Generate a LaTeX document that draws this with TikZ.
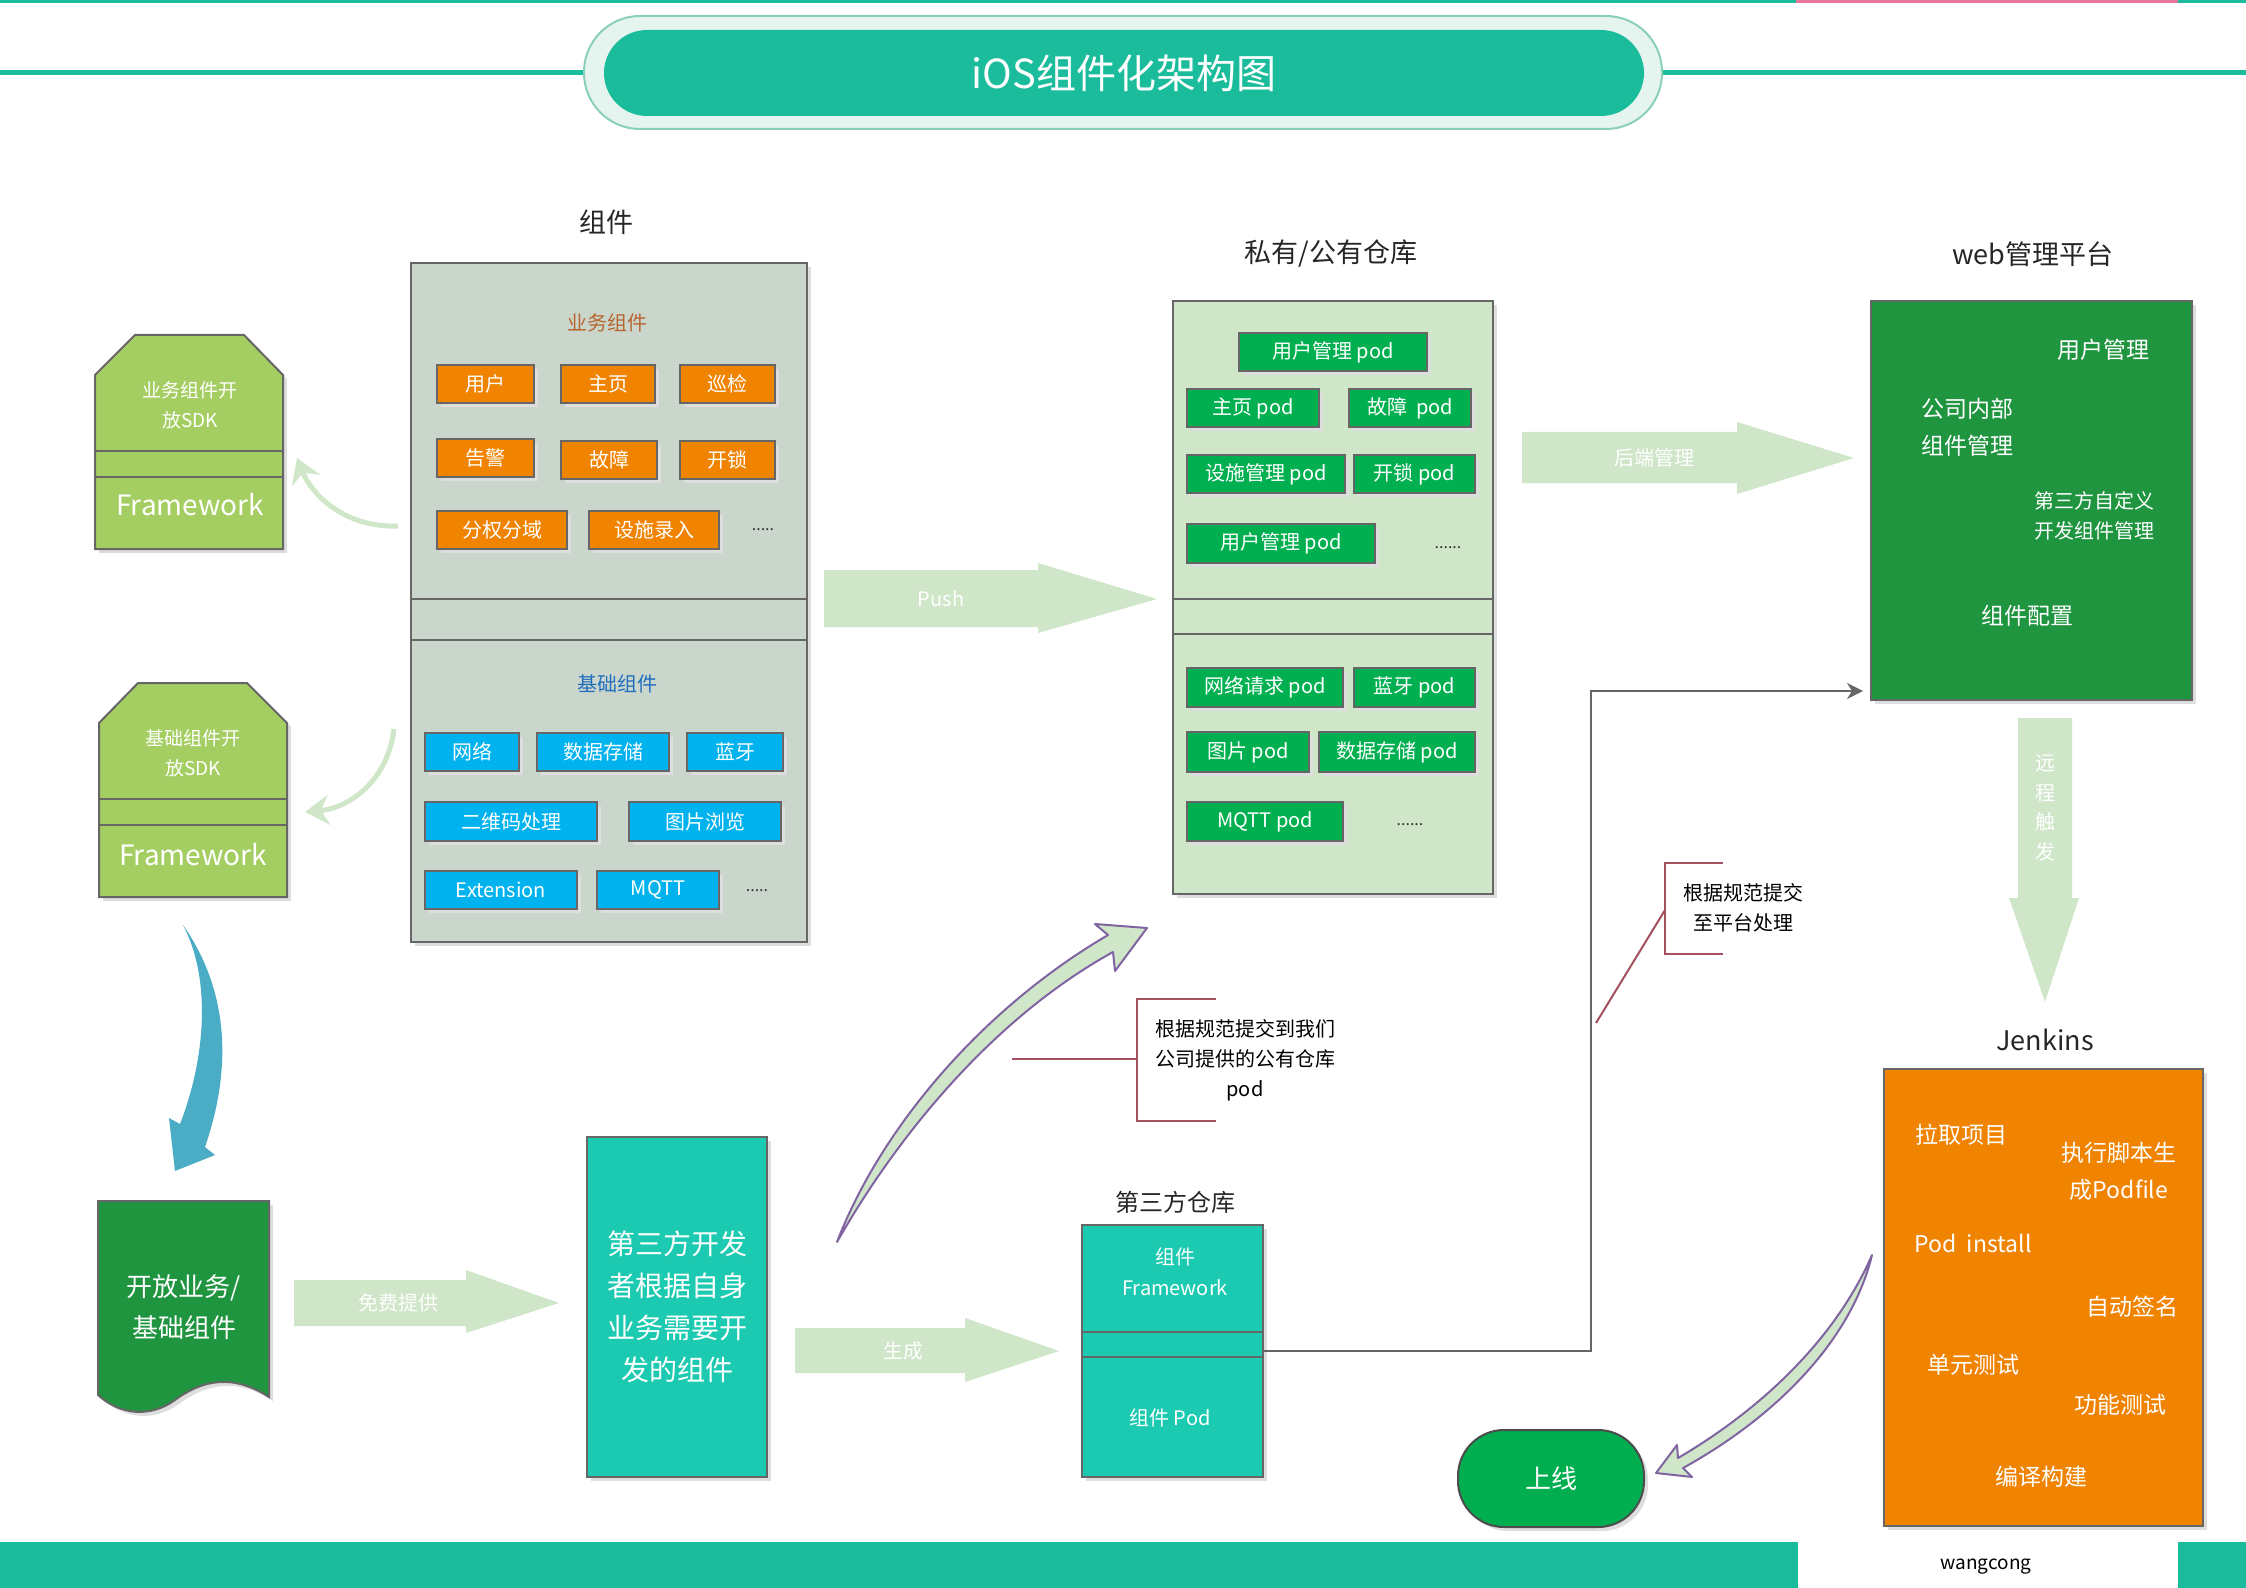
\documentclass[tikz,border=0pt]{standalone}
\usepackage{fontspec}
\setmainfont{Noto Sans CJK SC}
\usetikzlibrary{arrows.meta,shadows}
\definecolor{cTeal}{HTML}{1ABC9C}
\definecolor{cPink}{HTML}{E7769A}
\definecolor{cTitleOut}{HTML}{E6F4EF}
\definecolor{cTitleOutB}{HTML}{8ACFB9}
\definecolor{cGray}{HTML}{666666}
\definecolor{cCompBg}{HTML}{CAD6CC}
\definecolor{cOrange}{HTML}{F08300}
\definecolor{cBlue}{HTML}{00B2EE}
\definecolor{cSDK}{HTML}{A5CE62}
\definecolor{cRepoBg}{HTML}{CFE6C9}
\definecolor{cPod}{HTML}{00B050}
\definecolor{cDark}{HTML}{1F9540}
\definecolor{cTealB}{HTML}{1BCAB0}
\definecolor{cPale}{HTML}{CFE6C9}
\definecolor{cPurple}{HTML}{8064A2}
\definecolor{cArrowBlue}{HTML}{4BACC6}
\definecolor{cNote}{HTML}{A5505F}
\definecolor{cBizLabel}{HTML}{B8652E}
\definecolor{cBaseLabel}{HTML}{1F6EBE}
\definecolor{cOnline}{HTML}{00AE50}
\newcommand\fz[2]{\fontsize{#1}{#2}\selectfont}
\newcommand\bnode[7]{\node[#1, minimum width={(#5-#3)*0.5pt}, minimum height={(#6-#4)*0.5pt}] (#2) at ({(#3+#5)/2},{(#4+#6)/2}) {#7};}
\begin{document}
\begin{tikzpicture}[x=0.5pt,y=-0.5pt,
  every node/.style={inner sep=0pt, outer sep=0pt},
  bx/.style={draw=cGray, line width=1pt},
  sh/.style={drop shadow={shadow xshift=2pt, shadow yshift=-2pt, fill=black!13, opacity=1}},
  obox/.style={bx, sh, fill=cOrange, text=white, font=\fz{10}{12}},
  bbox/.style={bx, sh, fill=cBlue, text=white, font=\fz{10}{12}},
  podbox/.style={bx, sh, fill=cPod, text=white, font=\fz{10}{12}},
  lbl/.style={text=black!85, font=\fz{13.5}{16}},
  wt/.style={text=white, align=center},
  alabel/.style={text=white, font=\fz{10}{12}},
  dots/.style={text=black!80, font=\fz{8}{10}},
  note/.style={draw=cNote, line width=1pt},
  ntext/.style={align=center, font=\fz{10}{15}, text=black},
  conn/.style={draw=cGray, line width=1pt, -{Stealth[length=8pt,width=8pt,inset=2.5pt]}, shorten >=4pt},
  pale/.style={draw=cPale, line width=2.5pt, -{Stealth[length=12pt,width=15pt,inset=4pt]}},
  blk/.style={fill=cPale},
  purp/.style={fill=cPale, draw=cPurple, line width=1pt, line join=round}
]
\useasboundingbox (0,0) rectangle (2246,1588);
% top line
\fill[cTeal] (0,0) rectangle (1796,3);
\fill[cPink] (1796,0) rectangle (2178,3);
\fill[cTeal] (2178,0) rectangle (2246,3);
% bottom band
\fill[cTeal] (0,1542) rectangle (1798,1588);
\fill[cTeal] (2178,1542) rectangle (2246,1588);
\node[text=black, font=\fz{9.5}{11}] (author) at (1986,1567) {wangcong};
% title
\draw[cTeal, line width=2.5pt] (0,73) -- (584,73);
\draw[cTeal, line width=2.5pt] (1662,73) -- (2246,73);
\bnode{draw=cTitleOutB, fill=cTitleOut, line width=1pt, rounded corners=28pt}{titleout}{584}{16}{1662}{129}{}
\bnode{fill=cTeal, rounded corners=21.5pt}{titlein}{604}{30}{1644}{116}{}
\node[text=white, font=\fz{20}{24}] (title) at (1124,73) {iOS组件化架构图};

% ===== components box
\node[lbl] (complbl) at (606,222) {组件};
\bnode{bx, sh, fill=cCompBg}{comp}{411}{263}{807}{942}{}
\draw[cGray, line width=1pt] (411,599) -- (807,599) (411,640) -- (807,640);
\node[text=cBizLabel, font=\fz{10}{12}] (bizlbl) at (607,323) {业务组件};
\bnode{obox}{o1}{437}{365}{534}{403}{用户}
\bnode{obox}{o2}{561}{365}{655}{403}{主页}
\bnode{obox}{o3}{680}{365}{775}{403}{巡检}
\bnode{obox}{o4}{437}{439}{534}{477}{告警}
\bnode{obox}{o5}{561}{441}{657}{479}{故障}
\bnode{obox}{o6}{680}{441}{775}{479}{开锁}
\bnode{obox}{o7}{437}{511}{567}{549}{分权分域}
\bnode{obox}{o8}{589}{511}{719}{549}{设施录入}
\node[dots] (odots) at (763,530) {.....};
\node[text=cBaseLabel, font=\fz{10}{12}] (baselbl) at (617,684) {基础组件};
\bnode{bbox}{b1}{425}{733}{519}{771}{网络}
\bnode{bbox}{b2}{537}{733}{669}{771}{数据存储}
\bnode{bbox}{b3}{687}{733}{783}{771}{蓝牙}
\bnode{bbox}{b4}{425}{802}{597}{841}{二维码处理}
\bnode{bbox}{b5}{629}{802}{781}{841}{图片浏览}
\bnode{bbox}{b6}{425}{871}{577}{909}{Extension}
\bnode{bbox}{b7}{597}{871}{719}{909}{MQTT}
\node[dots] (bdots) at (757,891) {.....};

% ===== SDK shapes
\filldraw[fill=cSDK, draw=cGray, line width=1pt, sh] (95,375) -- (135,335) -- (244,335) -- (283,375) -- (283,549) -- (95,549) -- cycle;
\draw[cGray, line width=1pt] (95,451) -- (283,451) (95,477) -- (283,477);
\node[wt, font=\fz{9.5}{15}] (sdk1t) at (190,405) {业务组件开\\放SDK};
\node[wt, font=\fz{14}{16}] (sdk1f) at (190,505) {Framework};
\filldraw[fill=cSDK, draw=cGray, line width=1pt, sh] (99,723) -- (138,683) -- (247,683) -- (287,723) -- (287,897) -- (99,897) -- cycle;
\draw[cGray, line width=1pt] (99,799) -- (287,799) (99,825) -- (287,825);
\node[wt, font=\fz{9.5}{15}] (sdk2t) at (193,753) {基础组件开\\放SDK};
\node[wt, font=\fz{14}{16}] (sdk2f) at (193,855) {Framework};
\coordinate (a1s) at (398,526);
\coordinate (a1e) at (297,458);
\coordinate (a2s) at (394,729);
\coordinate (a2e) at (305,812);
\draw[pale] (a1s) .. controls (345,528) and (312,495) .. (a1e);
\draw[pale] (a2s) .. controls (388,780) and (350,808) .. (a2e);

% blue curved arrow
\fill[cArrowBlue] (183,925) .. controls (225,985) and (235,1060) .. (205,1147) -- (215,1155) -- (175,1171) -- (169,1118) -- (180,1124) .. controls (205,1060) and (212,980) .. (183,925) -- cycle;

% document shape
\filldraw[fill=cDark, draw=cGray, line width=1pt, sh] (98,1201) -- (269,1201) -- (269,1397) .. controls (235,1375) and (205,1378) .. (175,1400) .. controls (150,1418) and (120,1415) .. (98,1395) -- cycle;
\node[wt, font=\fz{13}{20.5}] (doc) at (184,1307) {开放业务/\\基础组件};

% free provide arrow
\fill[cPale] (294,1280) -- (466,1280) -- (466,1270) -- (559,1303) -- (466,1333) -- (466,1326) -- (294,1326) -- cycle;
\node[alabel] (freel) at (398,1303) {免费提供};

% third party dev box
\bnode{bx, sh, fill=cTealB, wt, font=\fz{14}{21}}{dev}{587}{1137}{767}{1477}{第三方开发\\者根据自身\\业务需要开\\发的组件}

% generate arrow
\fill[cPale] (795,1328) -- (965,1328) -- (965,1318) -- (1059,1351) -- (965,1382) -- (965,1373) -- (795,1373) -- cycle;
\node[alabel] (genl) at (903,1351) {生成};

% third party repo
\node[lbl, font=\fz{12}{14}] (tplbl) at (1175,1202) {第三方仓库};
\bnode{bx, sh, fill=cTealB}{tprepo}{1082}{1225}{1263}{1477}{}
\draw[cGray, line width=1pt] (1082,1332) -- (1263,1332) (1082,1357) -- (1263,1357);
\node[wt, font=\fz{10}{15.5}] (tp1) at (1175,1272) {组件\\Framework};
\node[wt, font=\fz{10}{12}] (tp2) at (1170,1418) {组件 Pod};

% push arrow
\fill[cPale] (824,570) -- (1038,570) -- (1038,563) -- (1157,599) -- (1038,633) -- (1038,627) -- (824,627) -- cycle;
\node[alabel] (pushl) at (941,599) {Push};

% ===== private/public repo
\node[lbl] (repolbl) at (1331,254) {私有/公有仓库};
\bnode{bx, sh, fill=cRepoBg}{repo}{1173}{301}{1493}{894}{}
\draw[cGray, line width=1pt] (1173,599) -- (1493,599) (1173,634) -- (1493,634);
\bnode{podbox}{p1}{1239}{333}{1427}{371}{用户管理 pod}
\bnode{podbox}{p2}{1187}{389}{1319}{427}{主页 pod}
\bnode{podbox}{p3}{1349}{389}{1471}{427}{故障\ \ pod}
\bnode{podbox}{p4}{1187}{455}{1345}{493}{设施管理 pod}
\bnode{podbox}{p5}{1354}{455}{1475}{493}{开锁 pod}
\bnode{podbox}{p6}{1187}{524}{1375}{563}{用户管理 pod}
\node[dots] (pdots1) at (1448,548) {......};
\bnode{podbox}{p7}{1187}{668}{1343}{707}{网络请求 pod}
\bnode{podbox}{p8}{1354}{668}{1475}{707}{蓝牙 pod}
\bnode{podbox}{p9}{1187}{732}{1309}{772}{图片 pod}
\bnode{podbox}{p10}{1319}{732}{1475}{772}{数据存储 pod}
\bnode{podbox}{p11}{1187}{802}{1343}{841}{MQTT pod}
\node[dots] (pdots2) at (1410,825) {......};

% purple arrow to repo
\filldraw[purp] (837,1242) .. controls (880,1130) and (980,1010) .. (1108,935) -- (1095,924) -- (1147,928) -- (1115,971) -- (1113,952) .. controls (990,1020) and (895,1140) .. (837,1242) -- cycle;

% note 1
\draw[note] (1216,999) -- (1137,999) -- (1137,1121) -- (1216,1121);
\coordinate (n1end) at (1012,1059);
\draw[note] (1137,1059) -- (n1end);
\node[ntext] (n1) at (1245,1060) {根据规范提交到我们\\公司提供的公有仓库\\pod};

% backend arrow
\fill[cPale] (1522,432) -- (1737,432) -- (1737,422) -- (1854,458) -- (1737,494) -- (1737,483) -- (1522,483) -- cycle;
\node[alabel] (backl) at (1654,458) {后端管理};

% ===== web platform
\node[lbl] (weblbl) at (2033,254) {web管理平台};
\bnode{bx, sh, fill=cDark}{web}{1871}{301}{2192}{700}{}
\node[wt, font=\fz{11.5}{14}] (w1) at (2103,350) {用户管理};
\node[wt, font=\fz{11.5}{18.5}] (w2) at (1967,427) {公司内部\\组件管理};
\node[wt, font=\fz{10}{15}] (w3) at (2094,516) {第三方自定义\\开发组件管理};
\node[wt, font=\fz{11.5}{14}] (w4) at (2027,616) {组件配置};

% connector from third party repo to web
\coordinate (bendc) at (1591,691);
\draw[conn] (tprepo.east) -| (bendc) -- (web.west |- bendc);

% note 2
\draw[note] (1723,863) -- (1665,863) -- (1665,954) -- (1723,954);
\coordinate (n2end) at (1596,1023);
\draw[note] (1665,910) -- (n2end);
\node[ntext] (n2) at (1743,908) {根据规范提交\\至平台处理};

% remote trigger arrow
\fill[cPale] (2018,718) -- (2072,718) -- (2072,898) -- (2079,898) -- (2045,1002) -- (2009,898) -- (2018,898) -- cycle;
\node[alabel, align=center, font=\fz{10}{14.8}] (rmt) at (2045,808) {远\\程\\触\\发};

% ===== Jenkins
\node[lbl] (jlbl) at (2045,1040) {Jenkins};
\bnode{bx, sh, fill=cOrange}{jenkins}{1884}{1069}{2203}{1526}{}
\node[wt, font=\fz{11.5}{14}] (j1) at (1961,1135) {拉取项目};
\node[wt, font=\fz{11.5}{18.5}] (j2) at (2119,1171) {执行脚本生\\成Podfile};
\node[wt, font=\fz{11.5}{14}] (j3) at (1973,1243) {Pod\ \ install};
\node[wt, font=\fz{11.5}{14}] (j4) at (2132,1307) {自动签名};
\node[wt, font=\fz{11.5}{14}] (j5) at (1973,1365) {单元测试};
\node[wt, font=\fz{11.5}{14}] (j6) at (2120,1405) {功能测试};
\node[wt, font=\fz{11.5}{14}] (j7) at (2041,1477) {编译构建};

% online
\bnode{draw=black!70, line width=1pt, sh, fill=cOnline, rounded corners=23pt, wt, font=\fz{13}{16}}{online}{1458}{1430}{1644}{1527}{上线}

% purple arrow to online
\filldraw[purp] (1872,1255) .. controls (1835,1340) and (1760,1410) .. (1678,1458) -- (1677,1445) -- (1656,1473) -- (1692,1477) -- (1683,1468) .. controls (1770,1420) and (1850,1345) .. (1872,1255) -- cycle;
\end{tikzpicture}
\end{document}
